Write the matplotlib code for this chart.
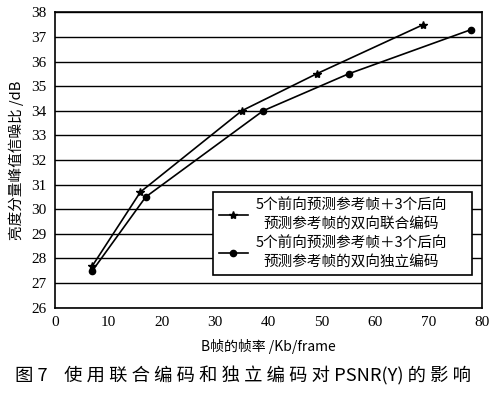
import matplotlib
matplotlib.use("Agg")
import matplotlib.pyplot as plt

plt.rcParams['font.family'] = ['Noto Sans CJK SC', 'DejaVu Sans']

# data
rate_joint = [7, 16, 35, 49, 69]
psnr_joint = [27.7, 30.7, 34.0, 35.5, 37.5]
rate_indep = [7, 17, 39, 55, 78]
psnr_indep = [27.5, 30.5, 34.0, 35.5, 37.3]
label_joint = "5个前向预测参考帧＋3个后向\n预测参考帧的双向联合编码"
label_indep = "5个前向预测参考帧＋3个后向\n预测参考帧的双向独立编码"
xticks = [0, 10, 20, 30, 40, 50, 60, 70, 80]
yticks = list(range(26, 39))

fig = plt.figure(figsize=(5, 3.97), dpi=100)
ax = fig.add_axes([0.11, 0.225, 0.854, 0.744])

ax.plot(rate_joint, psnr_joint, color='black', lw=1.2, marker='*', ms=6, label=label_joint)
ax.plot(rate_indep, psnr_indep, color='black', lw=1.2, marker='o', ms=4.5, label=label_indep)

ax.set_xlim(0, 80)
ax.set_ylim(26, 38)
ax.set_xticks(xticks)
ax.set_yticks(yticks)
ax.yaxis.grid(True, color='black', lw=1.0)
ax.set_axisbelow(True)
ax.tick_params(length=0, pad=6)
for t in ax.get_xticklabels() + ax.get_yticklabels():
    t.set_family('Liberation Serif')
    t.set_fontsize(11)
for s in ax.spines.values():
    s.set_linewidth(1.2)

ax.set_xlabel("B帧的帧率 /Kb/frame", fontsize=10, labelpad=7)
ax.set_ylabel("亮度分量峰值信噪比 /dB", fontsize=10.5, labelpad=5)

leg = ax.legend(loc='lower left', bbox_to_anchor=(0.37, 0.111, 0.607, 0.305),
                mode='expand', frameon=True, fancybox=False, framealpha=1,
                edgecolor='black', fontsize=10.5, handlelength=2.0,
                handletextpad=0.5, borderaxespad=0, labelspacing=0.35,
                borderpad=0.4)
leg.get_frame().set_linewidth(1.2)
for t in leg.get_texts():
    t.set_multialignment('center')
    t.set_linespacing(1.45)

fig.text(0.03, 0.04, "图 7    使 用 联 合 编 码 和 独 立 编 码 对 PSNR(Y) 的 影 响",
         fontsize=13.2)

fig.savefig("out.png", dpi=100)
